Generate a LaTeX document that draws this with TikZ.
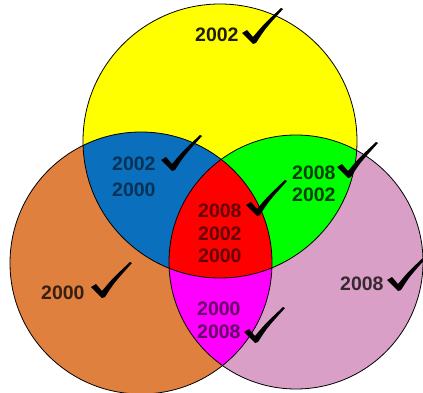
\documentclass[tikz,border=0pt]{standalone}
\usepackage{fontspec}
\newfontfamily\arialish{Liberation Sans}
\usepackage{xcolor}
\definecolor{ink}     {HTML}{000000}
\definecolor{sun}     {HTML}{FFFF00}
\definecolor{rust}    {HTML}{E0803E}
\definecolor{plum}    {HTML}{DA9FC7}
\definecolor{sea}     {HTML}{0A70BE}
\definecolor{lime}    {HTML}{00FF00}
\definecolor{fuchsia} {HTML}{FF00FF}
\definecolor{scarlet} {HTML}{FF0000}
\newcommand\yrfont{\arialish\bfseries\fontsize{19.5}{22}\selectfont}
\tikzset{
  yr/.style     = {font=\yrfont, inner sep=0pt, anchor=base west},
  ring/.style   = {draw=ink, line width=0.8pt},
  chk/.pic      = {\fill[ink] (-11,-10) -- (-6,-13) -- (0,-6)
                     .. controls (10,-18) .. (28,-35) -- (30,-34)
                     .. controls (12,-14) .. (3,0) -- (0,1) -- cycle;},
}

\begin{document}
\begin{tikzpicture}[x=1pt, y=-1pt]
  \useasboundingbox (0,0) rectangle (423,393);

  \coordinate (Yc) at (220,141);
  \coordinate (Oc) at (141,263);
  \coordinate (Pc) at (296,262);
  \def\rY{137} \def\rO{131} \def\rP{127}

  % single sets
  \fill[sun]  (Yc) circle[radius=\rY];
  \fill[rust] (Oc) circle[radius=\rO];
  \fill[plum] (Pc) circle[radius=\rP];

  % pairwise overlaps
  \begin{scope}
    \clip (Yc) circle[radius=\rY];
    \fill[sea]  (Oc) circle[radius=\rO];
    \fill[lime] (Pc) circle[radius=\rP];
  \end{scope}
  \begin{scope}
    \clip (Oc) circle[radius=\rO];
    \fill[fuchsia] (Pc) circle[radius=\rP];
    \clip (Pc) circle[radius=\rP];
    \fill[scarlet] (Yc) circle[radius=\rY];
  \end{scope}

  \draw[ring] (Yc) circle[radius=\rY];
  \draw[ring] (Oc) circle[radius=\rO];
  \draw[ring] (Pc) circle[radius=\rP];

  % labels
  \node[yr, text=sun!12!black]     (top)  at (195,42)  {2002};
  \node[yr, text=sea!45!black]     (bl1)  at (112,171) {2002};
  \node[yr, text=sea!45!black]     (bl2)  at (112,196) {2000};
  \node[yr, text=lime!25!black]    (gr1)  at (292,179) {2008};
  \node[yr, text=lime!25!black]    (gr2)  at (292,201) {2002};
  \node[yr, text=scarlet!40!black] (rd1)  at (198,217) {2008};
  \node[yr, text=scarlet!40!black] (rd2)  at (198,240) {2002};
  \node[yr, text=scarlet!40!black] (rd3)  at (198,262) {2000};
  \node[yr, text=rust!25!black]    (or1)  at (41,299)  {2000};
  \node[yr, text=plum!25!black]    (pk1)  at (340,290) {2008};
  \node[yr, text=fuchsia!40!black] (mg1)  at (197,315) {2000};
  \node[yr, text=fuchsia!40!black] (mg2)  at (197,338) {2008};

  % ticks
  \foreach \p in {(253,43), (172,170), (348,177), (257,215),
                  (102,297), (398,290), (255,342)}
    \pic at \p {chk};

\end{tikzpicture}
\end{document}
